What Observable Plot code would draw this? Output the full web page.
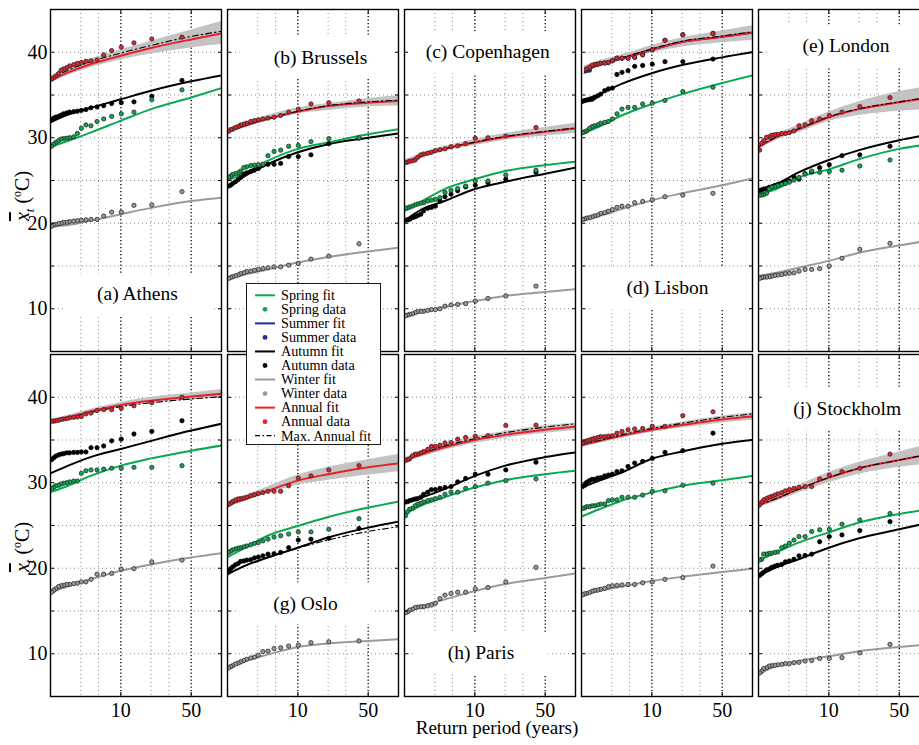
<!DOCTYPE html>
<html><head><meta charset="utf-8">
<script src="https://cdn.jsdelivr.net/npm/d3@7"></script>
<script src="https://cdn.jsdelivr.net/npm/@observablehq/plot@0.6"></script>
<style>
html,body{margin:0;padding:0;background:#fff;overflow:hidden;width:919px;height:745px}
</style></head><body><div id="chart"></div>
<script>
const FONT = "'Liberation Serif', 'DejaVu Serif', serif";
// panels in reading order (row 1 then row 2)
const panels = ["Athens","Brussels","Copenhagen","Lisbon","London","f","Oslo","Paris","i","Stockholm"];
const panelLabels = ["(a) Athens","(b) Brussels","(c) Copenhagen","(d) Lisbon","(e) London","","(g) Oslo","(h) Paris","","(j) Stockholm"];
const labelT = [14.6, 16.8, 13.4, 14.3, 14.8, null, 11.9, 11.5, null, 15.2];
const labelV = [11.7, 39.4, 40.0, 12.4, 40.8, null, 15.9, 10.1, null, 38.6];

const fitPeriods = [2, 3, 5, 10, 20, 50, 100];
const dataPeriods = [40.5, 20.3, 13.5, 10.1, 8.1, 6.75, 5.8, 5.05, 4.5, 4.05, 3.7, 3.4, 3.1, 2.9, 2.7, 2.55, 2.4, 2.25, 2.15, 2.05];
const xTicks = [10, 50];
const xMinorGrid = [4, 6, 20, 30];
const yTicks = [10, 20, 30, 40];
const yGrid = [10, 15, 20, 25, 30, 35, 40];

const springFit = [
  [28.9, 29.65, 30.6, 32.0, 33.35, 34.7, 35.8],
  [25.0, 25.9, 27.3, 28.7, 29.45, 30.4, 31.0],
  [21.45, 22.6, 24.0, 25.15, 26.1, 26.8, 27.2],
  [30.4, 31.3, 32.6, 33.95, 35.1, 36.4, 37.3],
  [23.3, 24.0, 25.35, 26.3, 27.5, 28.7, 29.25],
  [28.9, 29.65, 30.8, 32.0, 32.85, 33.75, 34.35],
  [21.3, 22.4, 23.8, 24.95, 26.0, 27.1, 27.8],
  [26.35, 27.4, 28.3, 29.45, 30.3, 31.0, 31.4],
  [26.05, 26.9, 27.9, 28.85, 29.65, 30.3, 30.8],
  [20.85, 21.85, 23.0, 24.2, 25.35, 26.35, 26.9]
];
const autumnFit = [
  [31.8, 32.7, 33.5, 34.5, 35.5, 36.6, 37.3],
  [24.25, 25.55, 26.9, 28.3, 29.25, 30.0, 30.5],
  [20.3, 21.65, 22.6, 24.0, 24.85, 25.8, 26.5],
  [34.35, 35.1, 36.3, 37.55, 38.5, 39.4, 40.0],
  [23.9, 24.6, 25.95, 27.4, 28.55, 29.7, 30.4],
  [31.1, 32.0, 33.0, 33.95, 34.9, 36.1, 36.9],
  [19.3, 20.3, 21.25, 22.4, 23.6, 24.75, 25.45],
  [27.7, 28.3, 29.25, 30.8, 32.0, 33.0, 33.55],
  [29.45, 30.25, 31.2, 32.8, 33.65, 34.55, 35.0],
  [19.1, 20.1, 21.05, 22.4, 23.5, 24.55, 25.35]
];
const winterFit = [
  [19.6, 19.8, 20.3, 21.05, 21.8, 22.6, 23.0],
  [13.5, 14.0, 14.6, 15.4, 16.05, 16.7, 17.15],
  [9.15, 9.65, 10.2, 10.9, 11.5, 11.95, 12.3],
  [20.35, 20.85, 21.65, 22.7, 23.5, 24.45, 25.25],
  [13.85, 14.2, 14.8, 15.6, 16.55, 17.4, 18.0],
  [17.15, 17.9, 18.7, 19.7, 20.45, 21.25, 21.75],
  [8.35, 9.15, 9.9, 10.8, 11.2, 11.5, 11.7],
  [14.8, 15.6, 16.35, 17.35, 18.15, 18.85, 19.4],
  [16.95, 17.35, 17.85, 18.5, 19.0, 19.55, 19.95],
  [7.6, 8.55, 9.15, 9.7, 10.3, 10.8, 11.1]
];
const annualFit = [
  [36.7, 37.65, 38.6, 39.6, 40.5, 41.5, 42.2],
  [30.7, 31.4, 32.2, 33.05, 33.7, 34.1, 34.3],
  [27.1, 27.9, 28.7, 29.45, 30.1, 30.7, 31.1],
  [37.9, 38.6, 39.3, 40.35, 41.2, 41.8, 42.3],
  [28.9, 30.05, 31.0, 32.4, 33.35, 34.15, 34.7],
  [37.15, 37.65, 38.35, 39.1, 39.6, 40.1, 40.4],
  [27.4, 28.1, 29.05, 30.25, 31.0, 31.8, 32.25],
  [32.6, 33.35, 34.15, 35.0, 35.6, 36.2, 36.55],
  [34.4, 34.9, 35.5, 36.2, 36.75, 37.4, 37.75],
  [27.4, 28.15, 29.25, 30.6, 31.7, 32.65, 33.35]
];
const maxAnnualFit = [
  [36.9, 37.9, 38.9, 39.9, 40.8, 41.85, 42.45],
  [30.7, 31.45, 32.25, 33.1, 33.75, 34.2, 34.4],
  [27.1, 27.9, 28.7, 29.5, 30.15, 30.75, 31.15],
  [37.95, 38.65, 39.35, 40.4, 41.3, 41.9, 42.4],
  [28.95, 30.1, 31.05, 32.45, 33.4, 34.2, 34.75],
  [37.1, 37.55, 38.2, 38.9, 39.35, 39.8, 40.05],
  [19.3, 20.3, 21.25, 22.35, 23.3, 24.3, 24.85],
  [32.7, 33.45, 34.3, 35.15, 35.85, 36.5, 36.9],
  [34.45, 34.95, 35.6, 36.35, 36.95, 37.65, 38.05],
  [27.4, 28.15, 29.25, 30.6, 31.7, 32.65, 33.35]
];
const bandLow = [
  [36.4, 37.3, 38.2, 39.1, 39.8, 40.5, 40.9],
  [30.4, 31.2, 32.0, 32.8, 33.2, 33.6, 33.7],
  [26.8, 27.6, 28.4, 29.1, 29.7, 30.2, 30.5],
  [37.6, 38.3, 39.0, 39.9, 40.6, 41.1, 41.4],
  [28.6, 29.7, 30.6, 31.9, 32.6, 33.1, 33.3],
  [36.9, 37.4, 38.1, 38.8, 39.3, 39.7, 39.9],
  [27.1, 27.8, 28.7, 29.7, 30.3, 30.9, 31.3],
  [32.3, 33.0, 33.8, 34.6, 35.2, 35.8, 36.1],
  [34.1, 34.6, 35.2, 35.9, 36.4, 37.0, 37.3],
  [27.1, 27.8, 28.8, 30.0, 31.0, 31.8, 32.2]
];
const bandHigh = [
  [37.2, 38.2, 39.2, 40.3, 41.3, 42.6, 43.6],
  [31.0, 31.8, 32.6, 33.5, 34.0, 34.6, 34.9],
  [27.4, 28.2, 29.0, 29.8, 30.5, 31.2, 31.7],
  [38.3, 39.0, 39.7, 40.8, 41.7, 42.5, 43.1],
  [29.3, 30.4, 31.5, 33.0, 34.2, 35.4, 36.0],
  [37.4, 37.9, 38.6, 39.4, 40.0, 40.5, 40.9],
  [27.8, 28.5, 29.5, 30.9, 31.8, 32.7, 33.3],
  [32.9, 33.7, 34.5, 35.4, 36.0, 36.7, 37.0],
  [34.7, 35.2, 35.8, 36.5, 37.1, 37.8, 38.2],
  [27.8, 28.5, 29.7, 31.2, 32.4, 33.6, 34.5]
];
// summer is visible only in Lisbon (panel index 3)
const summerPanel = 3;
const summerFitLisbon = [37.8, 38.5, 39.25, 40.3, 41.2, 41.8, 42.3];
const summerDataLisbon = [42.2, 42.05, 41.4, 40.3, 39.7, 39.4, 39.3, 39.3, 39.3, 39.0, 38.8, 38.75, 38.7, 38.6, 38.55, 38.4, 37.9, 37.85, 37.8, 37.8];

const springData = [
  [35.6, 34.45, 33.0, 32.8, 32.5, 32.2, 31.9, 31.4, 31.5, 31.1, 30.5, 30.1, 30.0, 29.95, 29.9, 29.85, 29.65, 29.45, 29.25, 29.0],
  [30.0, 29.9, 29.55, 29.1, 29.0, 28.55, 28.4, 27.9, 26.9, 26.85, 26.8, 26.75, 26.6, 26.5, 26.1, 25.9, 25.8, 25.7, 25.5, 25.4],
  [26.2, 25.65, 24.95, 24.95, 24.35, 24.05, 23.85, 23.6, 23.0, 22.8, 22.7, 22.6, 22.4, 22.35, 22.25, 22.15, 22.0, 21.9, 21.8, 21.75],
  [35.9, 35.4, 34.35, 34.05, 33.95, 33.55, 33.55, 33.35, 32.8, 32.2, 31.9, 31.8, 31.7, 31.5, 31.4, 31.3, 31.1, 30.8, 30.7, 30.6],
  [27.4, 26.7, 26.2, 26.05, 25.95, 26.1, 25.75, 25.35, 25.05, 24.8, 24.65, 24.55, 24.4, 24.25, 24.2, 24.0, 23.5, 23.35, 23.3, 23.3],
  [32.0, 31.8, 31.8, 31.7, 31.7, 31.6, 31.5, 31.5, 31.4, 31.1, 30.2, 30.2, 30.1, 30.0, 29.95, 29.85, 29.7, 29.65, 29.45, 29.35],
  [25.8, 24.55, 24.25, 24.25, 24.0, 23.8, 23.65, 23.4, 23.2, 23.0, 22.9, 22.75, 22.6, 22.5, 22.4, 22.35, 22.25, 22.15, 22.0, 21.85],
  [30.45, 30.25, 29.95, 29.55, 29.35, 28.9, 28.9, 28.65, 28.3, 28.15, 28.0, 27.9, 27.75, 27.6, 27.5, 27.3, 27.0, 26.9, 26.6, 26.15],
  [29.95, 29.7, 29.05, 29.0, 28.55, 28.3, 28.3, 28.3, 28.0, 28.0, 27.9, 27.5, 27.5, 27.4, 27.3, 27.3, 27.2, 27.2, 27.05, 27.0],
  [26.4, 25.65, 25.15, 24.55, 24.5, 24.3, 23.7, 23.7, 23.3, 22.95, 22.6, 22.4, 21.9, 21.85, 21.75, 21.75, 21.65, 21.65, 21.05, 20.95]
];
const autumnData = [
  [36.7, 34.85, 34.2, 34.1, 34.0, 33.75, 33.6, 33.5, 33.3, 33.2, 33.1, 33.05, 33.0, 32.9, 32.8, 32.65, 32.5, 32.4, 32.3, 32.1],
  [29.95, 29.3, 28.0, 27.8, 27.8, 27.0, 26.9, 26.9, 26.8, 26.4, 26.2, 26.05, 25.9, 25.75, 25.35, 25.1, 24.85, 24.65, 24.45, 24.35],
  [25.95, 25.15, 24.75, 24.45, 24.25, 23.8, 23.4, 23.1, 22.6, 22.0, 21.85, 21.75, 21.45, 21.05, 20.9, 20.75, 20.65, 20.45, 20.4, 20.35],
  [39.2, 38.9, 38.9, 38.6, 38.45, 38.35, 37.85, 37.65, 37.4, 35.8, 35.7, 35.5, 35.1, 34.9, 34.7, 34.5, 34.45, 34.4, 34.35, 34.25],
  [29.0, 28.0, 27.9, 26.85, 26.5, 26.0, 25.8, 25.15, 25.4, 24.95, 24.85, 24.65, 24.5, 24.4, 24.25, 24.2, 24.05, 24.0, 23.9, 23.8],
  [37.25, 36.0, 35.7, 35.1, 34.9, 34.3, 34.1, 34.1, 33.6, 33.6, 33.55, 33.55, 33.5, 33.5, 33.4, 33.35, 33.25, 33.1, 32.9, 32.7],
  [24.65, 23.5, 23.4, 23.3, 22.4, 21.85, 21.7, 21.65, 21.45, 21.3, 21.2, 21.0, 20.95, 20.85, 20.8, 20.55, 20.4, 20.15, 19.95, 19.7],
  [32.4, 31.5, 31.0, 31.0, 30.5, 30.1, 29.55, 29.45, 29.35, 29.2, 29.2, 28.9, 28.65, 28.3, 28.15, 28.1, 28.0, 27.9, 27.8, 27.75],
  [35.8, 33.75, 33.55, 32.85, 32.5, 32.3, 31.9, 31.4, 31.3, 31.0, 30.9, 30.8, 30.6, 30.55, 30.4, 30.4, 30.25, 30.05, 29.7, 29.55],
  [25.45, 24.4, 23.9, 23.7, 23.1, 21.65, 21.5, 21.45, 21.05, 20.85, 20.75, 20.45, 20.35, 20.25, 20.1, 19.9, 19.8, 19.55, 19.35, 19.15]
];
const winterData = [
  [23.7, 22.15, 22.1, 21.3, 21.3, 20.85, 20.45, 20.45, 20.4, 20.35, 20.3, 20.25, 20.2, 20.1, 20.1, 20.0, 19.95, 19.85, 19.8, 19.65],
  [17.6, 16.15, 15.8, 15.3, 15.1, 14.9, 14.9, 14.8, 14.7, 14.6, 14.5, 14.4, 14.35, 14.2, 14.1, 13.95, 13.85, 13.75, 13.65, 13.55],
  [12.65, 11.5, 11.2, 10.9, 10.6, 10.5, 10.45, 10.3, 10.0, 9.9, 9.9, 9.8, 9.7, 9.7, 9.65, 9.55, 9.4, 9.35, 9.25, 9.2],
  [23.5, 23.3, 23.1, 22.75, 22.55, 22.4, 22.0, 22.0, 21.85, 21.6, 21.4, 21.25, 21.15, 20.95, 20.85, 20.75, 20.65, 20.6, 20.5, 20.45],
  [17.65, 16.95, 15.9, 15.0, 14.7, 14.6, 14.6, 14.4, 14.2, 14.15, 14.1, 14.0, 13.95, 13.9, 13.8, 13.75, 13.7, 13.7, 13.65, 13.55],
  [20.95, 20.75, 19.95, 19.9, 19.4, 19.3, 19.3, 18.7, 18.4, 18.4, 18.25, 18.2, 18.1, 18.1, 18.0, 17.95, 17.85, 17.6, 17.4, 17.2],
  [11.5, 11.4, 11.3, 11.0, 10.9, 10.7, 10.6, 10.3, 10.25, 9.85, 9.6, 9.5, 9.35, 9.2, 9.05, 8.9, 8.8, 8.6, 8.5, 8.35],
  [20.1, 18.4, 17.75, 17.6, 17.2, 17.2, 17.05, 16.85, 16.45, 15.9, 15.7, 15.6, 15.5, 15.5, 15.45, 15.4, 15.2, 15.1, 14.9, 14.8],
  [20.25, 18.9, 18.7, 18.4, 18.3, 18.1, 18.1, 18.05, 18.0, 17.95, 17.85, 17.65, 17.55, 17.45, 17.4, 17.3, 17.15, 17.05, 17.0, 16.9],
  [11.1, 10.1, 9.55, 9.45, 9.45, 9.2, 9.15, 9.0, 8.95, 8.85, 8.85, 8.75, 8.7, 8.65, 8.6, 8.55, 8.35, 8.25, 7.95, 7.75]
];
const annualData = [
  [41.76, 41.56, 41.1, 40.6, 40.2, 39.7, 39.1, 39.0, 38.95, 38.8, 38.7, 38.55, 38.4, 38.2, 38.05, 37.9, 37.5, 37.2, 37.0, 36.85],
  [34.3, 34.1, 33.95, 33.35, 33.0, 32.6, 32.4, 32.3, 32.2, 32.1, 32.0, 31.9, 31.7, 31.6, 31.5, 31.3, 31.2, 31.0, 30.95, 30.75],
  [31.2, 30.2, 30.0, 29.95, 29.3, 29.05, 28.95, 28.7, 28.6, 28.5, 28.3, 28.2, 28.1, 28.0, 27.7, 27.4, 27.3, 27.25, 27.15, 27.1],
  [42.2, 42.05, 41.4, 40.3, 39.7, 39.4, 39.3, 39.3, 39.3, 39.0, 38.8, 38.75, 38.7, 38.6, 38.55, 38.45, 38.25, 38.05, 37.95, 37.85],
  [34.7, 33.65, 33.0, 32.6, 32.2, 32.0, 31.5, 31.4, 30.8, 30.6, 30.5, 30.5, 30.4, 30.35, 30.3, 30.1, 30.05, 29.65, 29.35, 28.55],
  [40.0, 39.35, 39.0, 38.7, 38.55, 38.55, 38.45, 38.15, 38.05, 37.75, 37.7, 37.65, 37.6, 37.5, 37.45, 37.4, 37.3, 37.25, 37.2, 37.2],
  [32.0, 31.5, 30.8, 30.55, 29.65, 29.0, 29.0, 29.0, 28.85, 28.75, 28.6, 28.5, 28.3, 28.2, 28.15, 28.1, 28.0, 27.8, 27.6, 27.45],
  [36.75, 36.7, 35.5, 35.45, 35.3, 35.1, 34.7, 34.65, 34.4, 34.25, 34.25, 33.9, 33.65, 33.5, 33.35, 33.35, 33.15, 32.8, 32.7, 32.6],
  [38.3, 37.85, 36.6, 36.6, 36.35, 36.3, 36.2, 36.0, 35.8, 35.5, 35.45, 35.4, 35.4, 35.3, 35.2, 35.1, 35.0, 34.9, 34.75, 34.65],
  [33.35, 31.7, 31.3, 30.9, 30.45, 29.55, 29.55, 29.45, 29.35, 29.2, 29.05, 28.85, 28.7, 28.55, 28.4, 28.3, 28.15, 28.0, 27.7, 27.4]
];

const legendLabels = ["Spring fit","Spring data","Summer fit","Summer data","Autumn fit","Autumn data","Winter fit","Winter data","Annual fit","Annual data","Max. Annual fit"];

const C = {spring: "#0aa84f", summer: "#1f2f96", autumn: "#000000", winter: "#9a9a9a", annual: "#e8202a", band: "#c3c3c3"};
const legendColors = [C.spring, C.spring, C.summer, C.summer, C.autumn, C.autumn, C.winter, C.winter, C.annual, C.annual, "#000"];
const legendKinds = ["line","dot","line","dot","line","dot","line","dot","line","dot","dashdot"];

// long-format builders
const pos = p => ({p, col: p % 5, row: Math.floor(p / 5)});
const toRows = (arrs, periods, indexes) => arrs.flatMap((vals, i) => {
  const p = indexes ? indexes[i] : i;
  return vals.map((v, j) => ({...pos(p), T: periods[j], v}));
});
const band = bandLow.flatMap((lo, p) => lo.map((v, j) => ({...pos(p), T: fitPeriods[j], lo: v, hi: bandHigh[p][j]})));
const labels = panelLabels.map((t, p) => ({...pos(p), text: t, T: labelT[p], v: labelV[p]})).filter(d => d.text);

const curve = "monotone-x";
const fitLine = (arrs, stroke, extra = {}, idx) => Plot.line(toRows(arrs, fitPeriods, idx), {x: "T", y: "v", fx: "col", fy: "row", z: "p", stroke, strokeWidth: 2, curve, clip: true, ...extra});
const dataDots = (arrs, fill, stroke = "#2a2a2a", idx) => Plot.dot(toRows(arrs, dataPeriods, idx), {x: "T", y: "v", fx: "col", fy: "row", r: 2.15, fill, stroke, strokeWidth: 0.8, clip: true});

const chart = Plot.plot({
  width: 919,
  height: 745,
  marginLeft: 50,
  marginRight: -10,
  marginTop: 9,
  marginBottom: 49,
  style: {fontFamily: FONT, background: "#fff", color: "#000"},
  x: {type: "log", domain: [2, 100]},
  y: {domain: [5, 45]},
  fx: {domain: [0, 1, 2, 3, 4], paddingInner: 0.034, paddingOuter: 0, round: false, axis: null},
  fy: {domain: [0, 1], paddingInner: 0.0087, paddingOuter: 0, round: false, axis: null},
  marks: [
    Plot.gridY({ticks: yGrid, stroke: "#8c8c8c", strokeOpacity: 1, strokeDasharray: "1,3"}),
    Plot.gridX({ticks: xMinorGrid, stroke: "#8c8c8c", strokeOpacity: 1, strokeDasharray: "1,3"}),
    Plot.gridX({ticks: xTicks, stroke: "#000", strokeOpacity: 1, strokeWidth: 1.3, strokeDasharray: "1.3,2.2"}),
    Plot.areaY(band, {x: "T", y1: "lo", y2: "hi", fx: "col", fy: "row", z: "p", fill: C.band, curve, clip: true}),
    fitLine(winterFit, C.winter),
    fitLine(autumnFit, C.autumn),
    fitLine(springFit, C.spring),
    fitLine([summerFitLisbon], C.summer, {}, [summerPanel]),
    fitLine(annualFit, C.annual),
    fitLine(maxAnnualFit, "#000", {strokeWidth: 1.1, strokeDasharray: "6,3,1.5,3"}),
    dataDots(winterData, C.winter),
    dataDots(autumnData, "#000", "#000"),
    dataDots(springData, C.spring),
    dataDots([summerDataLisbon], C.summer, "#2a2a2a", [summerPanel]),
    dataDots(annualData, C.annual),
    Plot.text(labels, {x: "T", y: "v", fx: "col", fy: "row", text: "text", fontSize: 19.5, fontFamily: FONT, fill: "#000"}),
    Plot.frame({stroke: "#000", strokeWidth: 1.4}),
    // inward ticks on every panel edge
    Plot.axisY({anchor: "left", ticks: yGrid, tickSize: 4, dx: 4, tickFormat: () => "", label: null, facetAnchor: null, strokeWidth: 1}),
    Plot.axisY({anchor: "right", ticks: yGrid, tickSize: 4, dx: -4, tickFormat: () => "", label: null, facetAnchor: null, strokeWidth: 1}),
    Plot.axisX({anchor: "bottom", ticks: xTicks, tickSize: 4, dy: -4, tickFormat: () => "", label: null, facetAnchor: null}),
    Plot.axisX({anchor: "top", ticks: xTicks, tickSize: 4, dy: 4, tickFormat: () => "", label: null, facetAnchor: null}),
    // tick labels
    Plot.axisY({anchor: "left", ticks: yTicks, tickSize: 0, tickPadding: 3, fontSize: 20, label: null}),
    Plot.axisX({anchor: "bottom", ticks: xTicks, tickSize: 0, tickPadding: 6, fontSize: 20, label: null, tickFormat: d => String(d)})
  ]
});
document.getElementById("chart").appendChild(chart);
const svg = d3.select(chart);

// white boxes behind panel labels
svg.selectAll('g[aria-label="text"] text').each(function () {
  const b = this.getBBox();
  const padX = 34, padY = 10;
  d3.select(this.parentNode).insert("rect", () => this)
    .attr("transform", this.getAttribute("transform"))
    .attr("x", b.x - padX).attr("y", b.y - padY)
    .attr("width", b.width + 2 * padX).attr("height", b.height + 2 * padY)
    .attr("fill", "#fff");
});

// y axis titles (one per row)
[196, 547].forEach(cy => {
  const t = svg.append("text")
    .attr("transform", `translate(29,${cy}) rotate(-90)`)
    .attr("text-anchor", "middle").attr("font-family", FONT).attr("font-size", 20).attr("fill", "#000");
  t.append("tspan").attr("font-style", "italic").style("text-decoration", "overline").text("x");
  t.append("tspan").attr("font-style", "italic").attr("font-size", 13).attr("dy", 5).text("t");
  t.append("tspan").attr("dy", -5).text(" (");
  t.append("tspan").attr("font-size", 12).attr("dy", -8).text("o");
  t.append("tspan").attr("dy", 8).text("C)");
});

// x axis title
svg.append("text").attr("x", 497).attr("y", 734).attr("text-anchor", "middle")
  .attr("font-family", FONT).attr("font-size", 19).attr("fill", "#000").text("Return period (years)");

// legend
const lg = svg.append("g").attr("font-family", FONT).attr("font-size", 14.2).attr("text-anchor", "start");
lg.append("rect").attr("x", 246.5).attr("y", 283.5).attr("width", 134).attr("height", 161)
  .attr("fill", "#fff").attr("stroke", "#000").attr("stroke-width", 0.9);
legendLabels.forEach((lab, i) => {
  const cy = 295.3 + 14.04 * i;
  const kind = legendKinds[i], col = legendColors[i];
  if (kind === "dot") {
    lg.append("circle").attr("cx", 265).attr("cy", cy).attr("r", 2.4).attr("fill", col);
  } else {
    lg.append("line").attr("x1", 255).attr("x2", 275).attr("y1", cy).attr("y2", cy)
      .attr("stroke", col).attr("stroke-width", kind === "dashdot" ? 1.2 : 2)
      .attr("stroke-dasharray", kind === "dashdot" ? "5,2.5,1.5,2.5" : null);
  }
  lg.append("text").attr("x", 281).attr("y", cy + 4.8).attr("text-anchor", "start").attr("fill", "#000").text(lab);
});
</script>
</body></html>
